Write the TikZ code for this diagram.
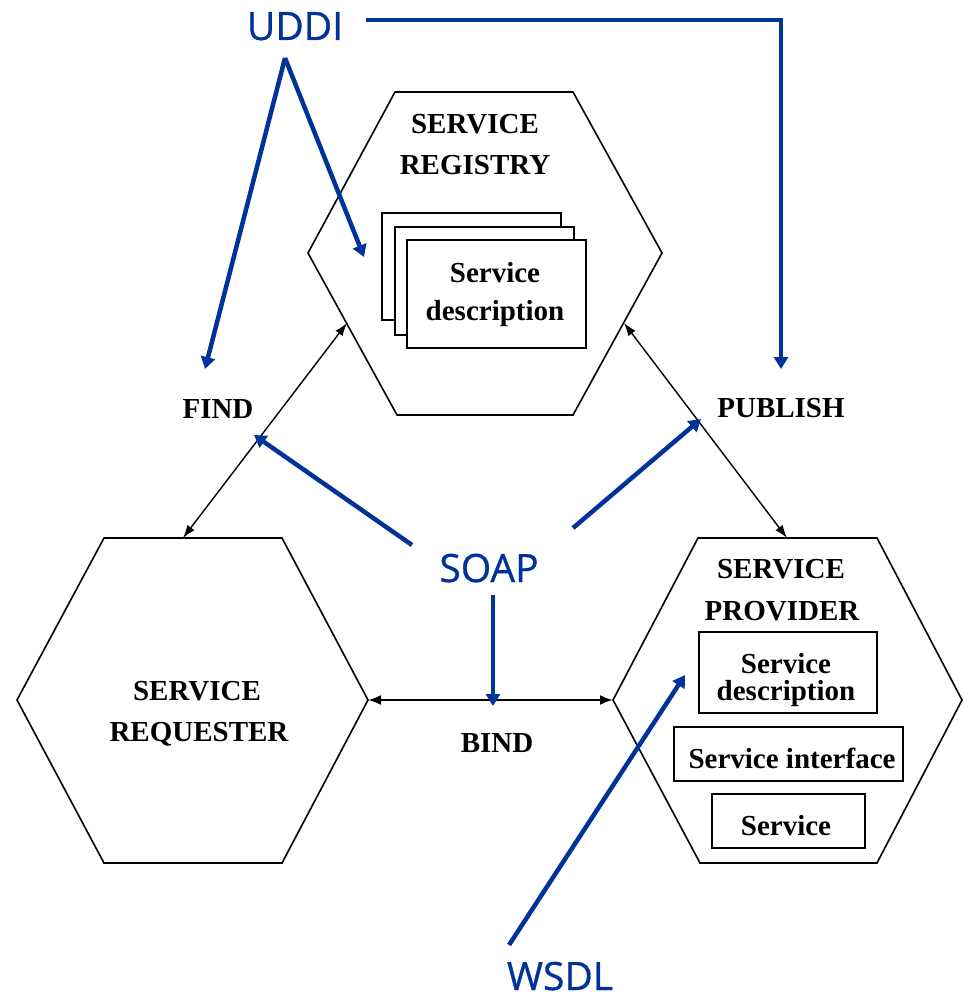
\documentclass[tikz,border=0pt]{standalone}
\usepackage{fontspec}
\setmainfont{Liberation Serif}
\newfontfamily\bluefont[FakeBold=0.8]{Open Sans}
\usetikzlibrary{arrows.meta}
\definecolor{sblue}{RGB}{0,51,153}
\begin{document}
\begin{tikzpicture}[x=1pt,y=-1pt,
  hex/.style={draw=black, line width=1.6pt, line join=miter},
  box/.style={draw=black, fill=white, line width=1.7pt, rectangle, inner sep=0pt},
  lbl/.style={font=\fontsize{29}{30}\selectfont\bfseries, anchor=base, inner sep=0pt},
  blbl/.style={font=\bluefont\fontsize{39}{40}\selectfont, text=sblue, anchor=base, inner sep=0pt},
  conn/.style={draw=black, line width=1.4pt, {Latex[length=13pt,width=9pt]}-{Latex[length=13pt,width=9pt]}},
  bindconn/.style={draw=black, line width=2.2pt, {Latex[length=13pt,width=10pt]}-{Latex[length=13pt,width=10pt]}},
  barrow/.style={draw=sblue, line width=4.5pt, line join=miter, -{Triangle[length=12pt,width=14pt]}},
]
\useasboundingbox (0,0) rectangle (963,1000);

% ---------- Service registry ----------
\coordinate (R1) at (395,92);
\coordinate (R2) at (573,92);
\coordinate (R3) at (662,253);
\coordinate (R4) at (573,415);
\coordinate (R5) at (397,415);
\coordinate (R6) at (308,253);
\draw[hex] (R1)--(R2)--(R3)--(R4)--(R5)--(R6)--cycle;
\node[lbl] (regT1) at (475,134) {SERVICE};
\node[lbl] (regT2) at (475,175) {REGISTRY};
\node[box, minimum width=179pt, minimum height=107pt] (sdA) at (471.5,266.5) {};
\node[box, minimum width=179pt, minimum height=108pt] (sdB) at (484.5,281) {};
\node[box, minimum width=179pt, minimum height=108pt] (sdC) at (496.5,294) {};
\node[lbl] (sdCt1) at (495,282) {Service};
\node[lbl] (sdCt2) at (495,320) {description};

% ---------- Service requester ----------
\coordinate (Q1) at (104,538);
\coordinate (Q2) at (282,538);
\coordinate (Q3) at (368,700);
\coordinate (Q4) at (282,863);
\coordinate (Q5) at (104,863);
\coordinate (Q6) at (17,700);
\draw[hex] (Q1)--(Q2)--(Q3)--(Q4)--(Q5)--(Q6)--cycle;
\node[lbl] (reqT1) at (197,700) {SERVICE};
\node[lbl] (reqT2) at (199,741) {REQUESTER};

% ---------- Service provider ----------
\coordinate (P1) at (698,538);
\coordinate (P2) at (877,538);
\coordinate (P3) at (962,700);
\coordinate (P4) at (877,863);
\coordinate (P5) at (700,863);
\coordinate (P6) at (613,700);
\draw[hex] (P1)--(P2)--(P3)--(P4)--(P5)--(P6)--cycle;
\node[lbl] (proT1) at (781,578) {SERVICE};
\node[lbl] (proT2) at (782,620) {PROVIDER};
\node[box, minimum width=178pt, minimum height=81pt] (pb1) at (788,672.5) {};
\node[lbl] (pb1t1) at (786,673) {Service};
\node[lbl] (pb1t2) at (786,700) {description};
\node[box, minimum width=229pt, minimum height=54pt] (pb2) at (788.5,754) {};
\node[lbl] (pb2t) at (792,768) {Service interface};
\node[box, minimum width=153pt, minimum height=54pt] (pb3) at (788.5,821) {};
\node[lbl] (pb3t) at (786,835) {Service};

% ---------- Black connectors ----------
\coordinate (findA) at (347,323);
\coordinate (findB) at (183,538);
\coordinate (pubA) at (624,323);
\coordinate (pubB) at (787,538);
\draw[conn] (findA) -- (findB);
\draw[conn] (pubA) -- (pubB);
\draw[bindconn] (Q3) -- (P6);
\node[lbl] (find) at (218,418) {FIND};
\node[lbl] (publish) at (781,417) {PUBLISH};
\node[lbl] (bind) at (497,752) {BIND};

% ---------- Blue annotations ----------
\node[blbl] (uddi) at (295,40) {UDDI};
\node[blbl] (soap) at (489,582) {SOAP};
\node[blbl] (wsdl) at (560,990) {WSDL};

\coordinate (u0) at (285,58);
\coordinate (uFind) at (205,369);
\coordinate (uReg) at (364,257);
\coordinate (u1) at (366,20);
\coordinate (uPub) at (781,369);
\draw[barrow] (u0) -- (uFind);
\draw[barrow] (u0) -- (uReg);
\draw[barrow] (u1) -| (uPub);

\coordinate (s1) at (412,545);
\coordinate (sFind) at (254,435);
\coordinate (s2) at (573,528);
\coordinate (sPub) at (701,419);
\coordinate (s3) at (493,595);
\coordinate (sBind) at (493,706);
\draw[barrow] (s1) -- (sFind);
\draw[barrow] (s2) -- (sPub);
\draw[barrow] (s3) -- (sBind);

\coordinate (w0) at (509,945);
\coordinate (wDesc) at (685,675);
\draw[barrow] (w0) -- (wDesc);
\end{tikzpicture}
\end{document}
